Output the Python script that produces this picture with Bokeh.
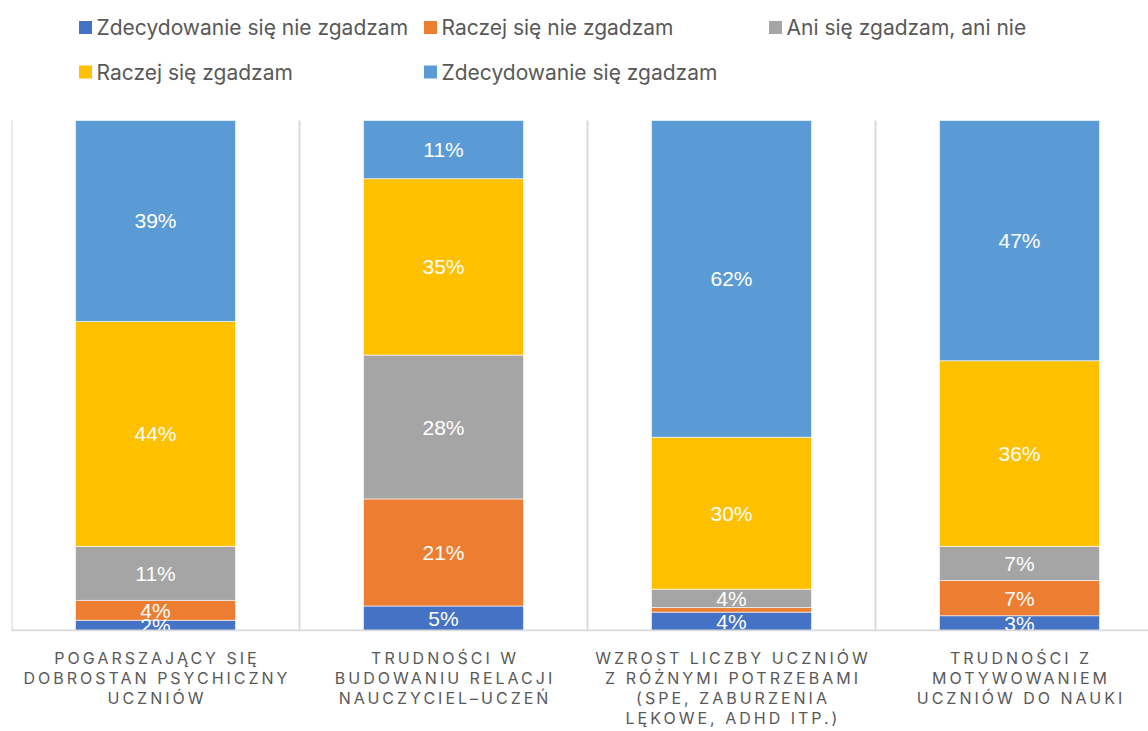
from bokeh.plotting import figure
from bokeh.layouts import column
from bokeh.models import Range1d, ColumnDataSource, InlineStyleSheet
from bokeh.core.properties import value
from bokeh.embed import file_html
from bokeh.resources import INLINE

# ---------------- data ----------------
categories = [
    "POGARSZAJĄCY SIĘ\nDOBROSTAN PSYCHICZNY\nUCZNIÓW",
    "TRUDNOŚCI W\nBUDOWANIU RELACJI\nNAUCZYCIEL–UCZEŃ",
    "WZROST LICZBY UCZNIÓW\nZ RÓŻNYMI POTRZEBAMI\n(SPE, ZABURZENIA\nLĘKOWE, ADHD ITP.)",
    "TRUDNOŚCI Z\nMOTYWOWANIEM\nUCZNIÓW DO NAUKI",
]
series_names = [
    "Zdecydowanie się nie zgadzam",
    "Raczej się nie zgadzam",
    "Ani się zgadzam, ani nie",
    "Raczej się zgadzam",
    "Zdecydowanie się zgadzam",
]
strongly_disagree = [2.0, 4.8, 3.6, 2.9]
rather_disagree = [3.9, 21.0, 0.9, 6.9]
neutral = [10.6, 28.2, 3.6, 6.7]
rather_agree = [44.1, 34.6, 29.8, 36.4]
strongly_agree = [39.4, 11.4, 62.1, 47.1]
colors = ["#4472C4", "#ED7D31", "#A5A5A5", "#FFC000", "#5B9BD5"]

series_values = [strongly_disagree, rather_disagree, neutral, rather_agree, strongly_agree]

# ---------------- layout helpers (pixels -> data) ----------------
W = 1148
H1 = 640             # chart part
H2 = 91              # category label strip
LEFT = 11            # pixel of first category boundary
CAT_PX = 288.0       # pixels per category
BASE_PY = 630.0      # pixel row of 0 %
TOP_PY = 120.0       # pixel row of 100 %
FRAME_BOTTOM = 631   # plot area ends here (labels clipped like the original)
PX_PER_PCT = (BASE_PY - TOP_PY) / 100.0
X_END = (W - LEFT) / CAT_PX

def dx(px):
    return (px - LEFT) / CAT_PX

def dy(py):
    return (BASE_PY - py) / PX_PER_PCT

p = figure(width=W, height=H1,
           x_range=Range1d(0, X_END),
           y_range=Range1d(dy(FRAME_BOTTOM), dy(0)),
           x_axis_type=None, y_axis_type=None,
           output_backend="svg", toolbar_location=None,
           min_border_left=LEFT, min_border_right=0,
           min_border_top=0, min_border_bottom=H1 - FRAME_BOTTOM)
p.outline_line_color = None
p.grid.visible = False

xs = [i + 0.5 for i in range(len(categories))]

# separators between categories
p.segment(x0=[0, 1, 2, 3, 4], y0=[0] * 5, x1=[0, 1, 2, 3, 4], y1=[100] * 5,
          line_color="#D9D9D9", line_width=2)

# stacked bars
data = {"x": xs}
keys = []
for i, vals in enumerate(series_values):
    k = f"s{i}"
    keys.append(k)
    data[k] = vals
src = ColumnDataSource(data)
p.vbar_stack(keys, x="x", width=160 / CAT_PX, source=src, color=colors,
             line_color="white", line_width=0.6)

# data labels
lx, ly, lt = [], [], []
for ci in range(len(categories)):
    cum = 0.0
    for vals in series_values:
        v = vals[ci]
        if v >= 1.5:
            lx.append(xs[ci])
            ly.append(cum + v / 2)
            lt.append(f"{round(v)}%")
        cum += v
p.text(x=lx, y=ly, text=lt, text_color="white", text_align="center",
       text_baseline="middle", text_font=value("Liberation Sans"),
       text_font_size="21px")

# baseline
p.segment(x0=[0], y0=[0], x1=[X_END], y1=[0],
          line_color="#D9D9D9", line_width=2)

# legend (manual grid: 3 columns, 2 rows)
leg_col_px = [85, 430, 775]
leg_row_py = [27, 71.5]
order = [(0, 0, 0), (1, 0, 1), (2, 0, 2), (3, 1, 0), (4, 1, 1)]
sqx, sqy, sqc, tx, ty, tt = [], [], [], [], [], []
for si, r, c in order:
    sqx.append(dx(leg_col_px[c]))
    sqy.append(dy(leg_row_py[r]))
    sqc.append(colors[si])
    tx.append(dx(leg_col_px[c] + 11))
    ty.append(dy(leg_row_py[r]))
    tt.append(series_names[si])
p.scatter(x=sqx, y=sqy, marker="square", size=13, color=sqc, line_color=None)
p.text(x=tx, y=ty, text=tt, text_color="#595959", text_align="left",
       text_baseline="middle", text_font=value("Inter"), text_font_size="21px")

# ---------------- category labels strip (letter-spaced) ----------------
LS = 3.0
p2 = figure(width=W, height=H2,
            x_range=Range1d(0, X_END), y_range=Range1d(H2, 0),
            x_axis_type=None, y_axis_type=None,
            output_backend="svg", toolbar_location=None,
            min_border_left=LEFT, min_border_right=0,
            min_border_top=0, min_border_bottom=0)
p2.outline_line_color = None
p2.grid.visible = False
p2.stylesheets = [InlineStyleSheet(css=f":host {{ letter-spacing: {LS}px; }}")]

cx, cy, ct, cxo = [], [], [], []
for ci, cat in enumerate(categories):
    for li, line in enumerate(cat.split("\n")):
        cx.append(xs[ci])
        cy.append(17.5 + 20.0 * li)
        ct.append(line)
        cxo.append(-(len(line) - 1) * LS / 2)
lab_src = ColumnDataSource(dict(x=cx, y=cy, text=ct, xo=cxo))
p2.text(x="x", y="y", text="text", x_offset="xo", source=lab_src,
        text_color="#595959", text_align="center",
        text_baseline="middle", text_font=value("Inter"), text_font_size="16px")

layout = column(p, p2, spacing=0)
open("out.html", "w").write(file_html(layout, INLINE))
